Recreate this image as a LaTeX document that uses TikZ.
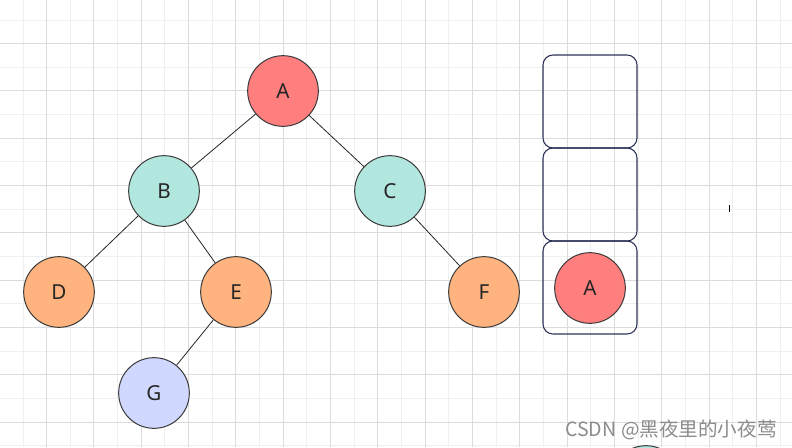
\documentclass[tikz,border=0pt]{standalone}
\usepackage{fontspec}
\setmainfont{Noto Sans}
\newfontfamily\cjk{Noto Sans CJK SC}
\definecolor{redfill}{HTML}{FF7F7F}
\definecolor{tealfill}{HTML}{B2E7DF}
\definecolor{orangefill}{HTML}{FFB47F}
\definecolor{bluefill}{HTML}{D0D8FF}
\definecolor{nodeline}{HTML}{3A3A3A}
\definecolor{boxline}{HTML}{2E3358}
\definecolor{minorgrid}{HTML}{EFEFEF}
\definecolor{majorgrid}{HTML}{DCDCDC}
\definecolor{wmark}{HTML}{8C8C8C}
\tikzset{
  treenode/.style={circle, draw=nodeline, line width=0.75pt, minimum size=53pt, inner sep=0pt, font=\fontsize{15.5}{17}\selectfont, text=black!85},
  rednode/.style={treenode, fill=redfill},
  tealnode/.style={treenode, fill=tealfill},
  orangenode/.style={treenode, fill=orangefill},
  bluenode/.style={treenode, fill=bluefill},
  edge/.style={draw=black!85, line width=0.6pt},
  stackbox/.style={draw=boxline, line width=0.8pt, rounded corners=7.5pt, minimum width=70.5pt, minimum height=69.75pt, inner sep=0pt},
  minorline/.style={draw=minorgrid, line width=0.75pt},
  majorline/.style={draw=majorgrid, line width=0.75pt}
}
\begin{document}
\begin{tikzpicture}[x=0.75pt,y=-0.75pt]
\useasboundingbox (0,0) rectangle (792,447);
\begin{scope}
\clip (0,0) rectangle (792,447);
\fill[white] (0,0) rectangle (792,447);
% grid
\foreach \k in {1,...,33} {
  \pgfmathsetmacro\xx{-0.66+23.66*\k}
  \draw[minorline] (\xx,0) -- (\xx,447);
}
\foreach \j in {1,...,19} {
  \pgfmathsetmacro\yy{-3.66+23.66*\j}
  \draw[minorline] (0,\yy) -- (792,\yy);
}
\foreach \k in {2,4,...,32} {
  \pgfmathsetmacro\xx{-0.66+23.66*\k}
  \draw[majorline] (\xx,0) -- (\xx,447);
}
\foreach \j in {2,4,...,18} {
  \pgfmathsetmacro\yy{-3.66+23.66*\j}
  \draw[majorline] (0,\yy) -- (792,\yy);
}
% tree nodes
\node[rednode] (A) at (283,91) {A};
\node[tealnode] (B) at (164,191) {B};
\node[tealnode] (C) at (390,191) {C};
\node[orangenode] (D) at (59,292) {D};
\node[orangenode] (E) at (236,292) {E};
\node[orangenode] (F) at (484,292) {F};
\node[bluenode] (G) at (154,393) {G};
\draw[edge] (A) -- (B);
\draw[edge] (A) -- (C);
\draw[edge] (B) -- (D);
\draw[edge] (B) -- (E);
\draw[edge] (C) -- (F);
\draw[edge] (E) -- (G);
% stack
\node[stackbox] (S1) at (590,101.5) {};
\node[stackbox] (S2) at (590,194.5) {};
\node[stackbox] (S3) at (590,287.5) {};
\node[rednode] (SA) at (590,288) {A};
% partly visible circle at bottom
\node[tealnode] (H) at (646,481) {};
% cursor mark
\coordinate (c1) at (729.5,205);
\coordinate (c2) at (729.5,211.5);
\draw[black, line width=1pt] (c1) -- (c2);
% watermark
\node[anchor=base east, inner sep=0pt, text=wmark, font=\cjk\fontsize{14.7}{18}\selectfont] (W) at (777,436) {CSDN @黑夜里的小夜莺};
\end{scope}
\end{tikzpicture}
\end{document}
